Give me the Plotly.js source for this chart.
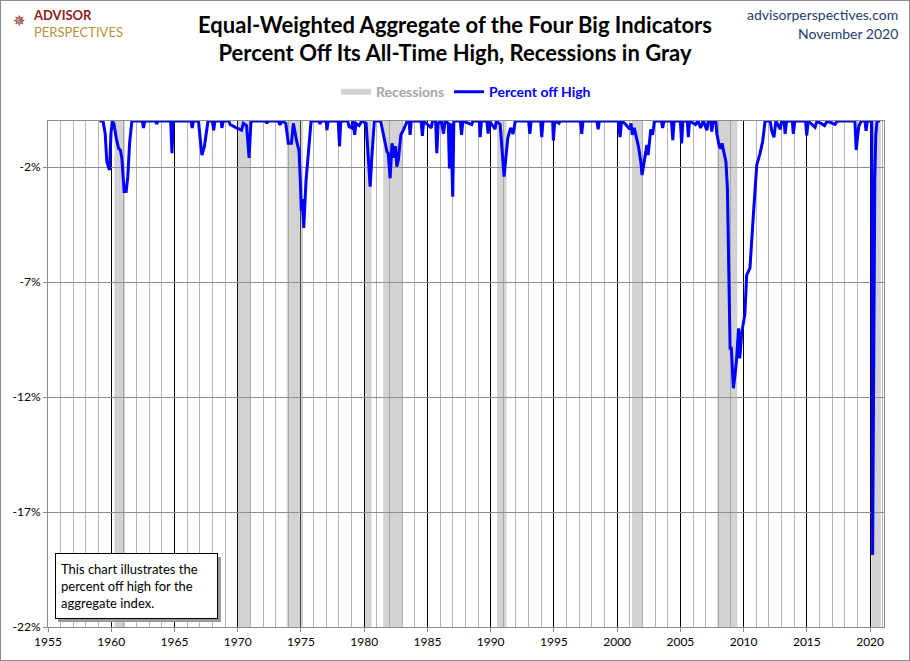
<!DOCTYPE html>
<html>
<head>
<meta charset="utf-8">
<script src="https://cdn.plot.ly/plotly-3.0.1.min.js"></script>
<style>
  html, body { margin: 0; padding: 0; background: #fff; }
  #chart { width: 908px; height: 659px; border: 1px solid #8c8c8c; }
</style>
</head>
<body>
<div id="chart"></div>
<script>
// percent off all-time high (decimal years)
var offHighYears = [
  1959.07, 1959.35, 1959.52, 1959.65, 1959.86, 1959.98, 1960.08, 1960.2, 1960.4, 1960.58,
  1960.72, 1960.84, 1961.02, 1961.18, 1961.31, 1961.45, 1961.63, 1962.45, 1962.55, 1962.65,
  1963.5, 1963.6, 1963.7, 1964.7, 1964.8, 1964.9, 1966.3, 1966.4, 1966.5, 1966.9,
  1967.03, 1967.17, 1967.37, 1967.55, 1967.65, 1968.0, 1968.1, 1968.2, 1968.7, 1968.75,
  1968.85, 1969.3, 1969.4, 1969.9, 1970.05, 1970.3, 1970.45, 1970.7, 1970.9, 1971.05,
  1972.2, 1972.3, 1972.4, 1973.2, 1973.35, 1973.5, 1973.8, 1974.0, 1974.25, 1974.4,
  1974.67, 1974.85, 1974.95, 1975.03, 1975.1, 1975.22, 1975.4, 1975.6, 1975.8, 1976.4,
  1976.5, 1976.6, 1977.0, 1977.05, 1977.15, 1977.95, 1978.05, 1978.15, 1978.7, 1978.8,
  1979.0, 1979.1, 1979.25, 1979.35, 1979.6, 1979.8, 1980.15, 1980.33, 1980.47, 1980.6,
  1980.8, 1981.3, 1981.5, 1981.8, 1981.9, 1982.05, 1982.2, 1982.37, 1982.48, 1982.58,
  1982.7, 1982.9, 1983.1, 1983.4, 1983.55, 1983.63, 1983.72, 1984.5, 1984.6, 1984.7,
  1985.3, 1985.4, 1985.65, 1985.74, 1985.85, 1986.1, 1986.27, 1986.4, 1986.65, 1986.74,
  1986.85, 1987.0, 1987.09, 1987.6, 1987.7, 1987.8, 1988.5, 1988.6, 1989.1, 1989.17,
  1989.27, 1989.7, 1989.8, 1989.9, 1990.35, 1990.45, 1990.75, 1990.93, 1991.06, 1991.2,
  1991.35, 1991.47, 1991.58, 1991.77, 1991.95, 1993.0, 1993.1, 1993.2, 1993.95, 1994.04,
  1994.14, 1994.9, 1994.96, 1995.06, 1995.4, 1995.5, 1997.1, 1997.2, 1997.3, 1998.4,
  1998.5, 1998.6, 2000.1, 2000.23, 2000.35, 2000.6, 2001.0, 2001.1, 2001.2, 2001.35,
  2001.68, 2001.87, 2001.97, 2002.1, 2002.35, 2002.45, 2002.66, 2002.8, 2002.95, 2003.5,
  2003.6, 2003.7, 2004.3, 2004.4, 2004.5, 2005.0, 2005.1, 2005.2, 2005.55, 2005.63,
  2005.72, 2006.2, 2006.4, 2006.6, 2006.8, 2007.1, 2007.2, 2007.4, 2007.48, 2007.6,
  2007.8, 2007.88, 2008.08, 2008.2, 2008.3, 2008.43, 2008.6, 2008.72, 2008.8, 2008.93,
  2009.03, 2009.19, 2009.32, 2009.45, 2009.6, 2009.7, 2009.85, 2009.98, 2010.1, 2010.24,
  2010.5, 2010.77, 2011.04, 2011.3, 2011.5, 2011.7, 2012.1, 2012.22, 2012.4, 2012.55,
  2012.9, 2013.0, 2013.2, 2013.28, 2013.4, 2013.85, 2013.93, 2014.05, 2014.9, 2014.99,
  2015.1, 2015.65, 2015.8, 2016.4, 2016.6, 2017.23, 2017.4, 2018.8, 2018.9, 2019.1,
  2019.3, 2019.6, 2019.68, 2019.78, 2020.13, 2020.2, 2020.28, 2020.37, 2020.45, 2020.55,
  2020.79
];
var offHighPct = [
  0, 0, -0.54, -1.77, -2.13, -0.54, 0, -0.1, -0.75, -1.19,
  -1.26, -1.62, -3.07, -3.07, -2.42, -0.97, 0, 0, -0.3, 0,
  0, -0.12, 0, 0, -1.4, 0, 0, -0.3, 0, 0,
  -0.75, -1.48, -1.1, -0.5, 0, 0, -0.4, 0, 0, -0.3,
  0, 0, -0.15, -0.3, -0.35, -0.4, -0.1, -0.2, -1.6, 0,
  0, -0.1, 0, 0, -0.17, 0, -0.1, -0.97, -0.97, -0.1,
  -0.9, -1.3, -2.6, -3.9, -3.4, -4.65, -2.6, -1.1, 0, 0,
  -0.12, 0, 0, -0.4, 0, 0, -1.1, 0, 0, -0.25,
  -0.3, 0, -0.6, -0.1, -0.2, 0, -0.1, -1.62, -2.86, -1.6,
  0, 0, -0.6, -1.33, -1.4, -2.49, -0.97, -1.6, -1.1, -1.99,
  -1.7, -0.6, -0.4, 0, 0, -0.6, 0, 0, -0.65, 0,
  -0.3, 0, 0, -1.4, -0.1, 0, -0.55, 0, -0.1, -2.06,
  -0.1, -3.29, 0, 0, -0.6, 0, -0.15, 0, 0, -0.7,
  0, 0, -0.55, 0, -0.35, 0, -0.15, -1.33, -2.42, -1.6,
  -0.75, -0.5, -0.3, -0.56, 0, 0, -0.56, 0, 0, -0.7,
  0, 0, -0.85, 0, -0.1, 0, 0, -0.56, 0, 0,
  -0.36, 0, 0, -0.7, 0, -0.1, -0.36, -0.1, -0.6, -0.3,
  -1.09, -1.77, -2.35, -1.9, -1.04, -1.48, -0.36, -0.6, 0, 0,
  -0.3, 0, 0, -0.83, 0, 0, -0.97, 0, 0, -0.7,
  0, -0.15, 0, -0.3, 0, -0.4, 0, 0, -0.46, 0,
  0, -0.54, -1.1, -1.2, -0.97, -1.33, -1.77, -2.93, -6.26, -9.88,
  -9.88, -11.62, -11.04, -10.32, -9.01, -10.32, -9.2, -8.72, -8.4, -6.7,
  -6.4, -4.09, -1.91, -1.41, -0.9, 0, 0, -0.42, -0.71, 0,
  -0.36, 0, 0, -0.56, 0, 0, -0.56, 0, 0, -0.63,
  0, -0.27, 0, -0.2, 0, -0.15, 0, 0, -1.26, -0.25,
  0, 0, -0.43, 0, 0, -18.87, -8.4, -2.6, -0.6, 0,
  0
];

// recessions (start / end, decimal years)
var recStart = [1960.25, 1970.0, 1973.88, 1980.08, 1981.5, 1990.5, 2001.17, 2007.92, 2020.1];
var recEnd   = [1961.1, 1971.0, 1975.17, 1980.58, 1983.0, 1991.25, 2002.0, 2009.5, 2020.85];

var tickYears = [1955, 1960, 1965, 1970, 1975, 1980, 1985, 1990, 1995, 2000, 2005, 2010, 2015, 2020];
var yTickVals = [-2, -7, -12, -17, -22];
var yTickLabels = ['-2%', '-7%', '-12%', '-17%', '-22%'];

var yBottom = -22, yTop = 0;

// recession boxes as one filled trace, separated by nulls
var recX = [], recY = [];
for (var i = 0; i < recStart.length; i++) {
  recX.push(recStart[i], recStart[i], recEnd[i], recEnd[i], recStart[i], null);
  recY.push(yTop, yBottom, yBottom, yTop, yTop, null);
}

var recessions = {
  x: recX, y: recY,
  type: 'scatter', mode: 'none',
  fill: 'toself',
  fillcolor: 'rgba(150,150,150,0.42)',
  name: '<span style="color:#a6a6a6">Recessions</span>',
  hoverinfo: 'skip'
};

var offHigh = {
  x: offHighYears, y: offHighPct,
  type: 'scatter', mode: 'lines',
  line: { color: '#0000ff', width: 3 },
  name: '<span style="color:#0000ff">Percent off High</span>'
};

var font = 'Lato, "Open Sans", sans-serif';
var darkBlue = '#1f3d6b';

var layout = {
  width: 908, height: 659,
  margin: { l: 47, r: 25, t: 120, b: 33 },
  paper_bgcolor: '#ffffff',
  plot_bgcolor: '#ffffff',
  font: { family: font, size: 12, color: '#000' },
  title: {
    text: '<b>Equal-Weighted Aggregate of the Four Big Indicators<br>Percent Off Its All-Time High, Recessions in Gray</b>',
    font: { family: font, size: 22, color: '#000' },
    x: 0.5, xanchor: 'center',
    y: 0.952, yref: 'container', yanchor: 'middle'
  },
  showlegend: true,
  legend: {
    orientation: 'h',
    x: 0.5, xanchor: 'center',
    y: 1.057, yanchor: 'middle',
    font: { family: font, size: 14, weight: 'bold' },
    bgcolor: 'rgba(0,0,0,0)',
    itemwidth: 30
  },
  xaxis: {
    range: [1955, 2021.1],
    tickvals: tickYears,
    ticktext: tickYears.map(String),
    showgrid: true, gridcolor: '#000', gridwidth: 1,
    minor: { dtick: 1, tick0: 1955, showgrid: true, gridcolor: '#b4b4b4', gridwidth: 1 },
    showline: true, mirror: true, linecolor: '#8c8c8c', linewidth: 1,
    ticks: 'outside', ticklen: 4, tickcolor: '#8c8c8c',
    zeroline: false,
    tickfont: { family: font, size: 12, color: '#000' }
  },
  yaxis: {
    range: [yBottom, yTop],
    tickvals: yTickVals,
    ticktext: yTickLabels,
    showgrid: true, gridcolor: '#8c8c8c', gridwidth: 1,
    showline: true, mirror: true, linecolor: '#8c8c8c', linewidth: 1,
    ticks: 'outside', ticklen: 4, tickcolor: '#8c8c8c',
    zeroline: false,
    tickfont: { family: font, size: 12, color: '#000' }
  },
  shapes: [
    // shadow behind the note box
    { type: 'rect', xref: 'paper', yref: 'paper',
      x0: 0.0120, x1: 0.2069, y0: 0.0099, y1: 0.1383,
      fillcolor: '#9a9a9a', line: { width: 0 }, layer: 'above' }
  ],
  annotations: [
    { xref: 'paper', yref: 'paper', x: -0.0345, y: 1.1976, xanchor: 'center', yanchor: 'middle',
      text: '\u2735', showarrow: false, font: { family: 'DejaVu Sans', size: 15, color: '#8b2323' } },
    { xref: 'paper', yref: 'paper', x: -0.0200, y: 1.1926, xanchor: 'left', yanchor: 'middle',
      text: '<span style="color:#8b2323"><b>ADVISOR</b></span><br><span style="color:#b8913e">PERSPECTIVES</span>',
      align: 'left', showarrow: false, font: { family: font, size: 13 } },
    { xref: 'paper', yref: 'paper', x: 1.0191, y: 1.2095, xanchor: 'right', yanchor: 'middle',
      text: 'advisorperspectives.com', showarrow: false, font: { family: font, size: 14, color: darkBlue } },
    { xref: 'paper', yref: 'paper', x: 1.0191, y: 1.1739, xanchor: 'right', yanchor: 'middle',
      text: 'November 2020', showarrow: false, font: { family: font, size: 14, color: darkBlue } },
    { xref: 'paper', yref: 'paper', x: 0.0084, y: 0.0158, xanchor: 'left', yanchor: 'bottom',
      text: 'This chart illustrates the<br>percent off high for the<br>aggregate index.',
      align: 'left', valign: 'middle', showarrow: false, width: 151, height: 54,
      bgcolor: '#ffffff', bordercolor: '#000', borderwidth: 1, borderpad: 5,
      font: { family: font, size: 13, color: '#000' } }
  ]
};

Plotly.newPlot('chart', [recessions, offHigh], layout, { displayModeBar: false, staticPlot: true });
</script>
</body>
</html>
